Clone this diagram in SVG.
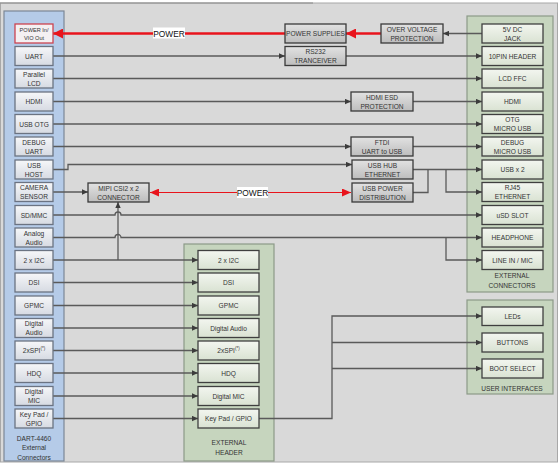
<svg xmlns="http://www.w3.org/2000/svg" width="558" height="463" viewBox="0 0 558 463">
<defs>
<linearGradient id="gL" x1="0" y1="0" x2="0" y2="1"><stop offset="0" stop-color="#f6f7f9"/><stop offset="1" stop-color="#d6dae2"/></linearGradient>
<linearGradient id="gM" x1="0" y1="0" x2="0" y2="1"><stop offset="0" stop-color="#e2e2e2"/><stop offset="1" stop-color="#bdbdbd"/></linearGradient>
<linearGradient id="gR" x1="0" y1="0" x2="0" y2="1"><stop offset="0" stop-color="#f3f6f0"/><stop offset="1" stop-color="#d9e2d2"/></linearGradient>
<marker id="a" markerUnits="userSpaceOnUse" markerWidth="7" markerHeight="6" refX="6" refY="3" orient="auto"><path d="M0,0.3 L6,3 L0,5.7 z" fill="#3c3c3c"/></marker>
<marker id="r" markerUnits="userSpaceOnUse" markerWidth="11" markerHeight="10" refX="10" refY="5" orient="auto"><path d="M0,0 L10,5 L0,10 z" fill="#e8141c"/></marker>
<marker id="rs" markerUnits="userSpaceOnUse" markerWidth="10" markerHeight="8" refX="9" refY="4" orient="auto-start-reverse"><path d="M0,0 L9,4 L0,8 z" fill="#e8141c"/></marker>
<style>
text{font-family:"Liberation Sans",Arial,sans-serif;font-size:6.6px;fill:#333;text-anchor:middle;dominant-baseline:central}
.bl{fill:url(#gL);stroke:#6b7382;stroke-width:1.3}
.bm{fill:url(#gM);stroke:#3a3a3a;stroke-width:1.3}
.br{fill:url(#gR);stroke:#3f3f3f;stroke-width:1.3}
.pg{fill:#c6d5be;stroke:#8c9a88;stroke-width:1.2}
.pb{fill:#b5cbe8;stroke:#7c8796;stroke-width:1.2}
.c{fill:none;stroke:#5a5a5a;stroke-width:1.3}
.ca{fill:none;stroke:#5a5a5a;stroke-width:1.3;marker-end:url(#a)}
.lbl{font-size:8.4px;fill:#111}
</style>
</defs>
<rect x="0" y="0" width="558" height="463" fill="#ffffff"/>
<rect x="0.5" y="3" width="557" height="459" fill="#d9d9d9" stroke="#a8a8a8" stroke-width="1"/>
<line x1="0" y1="3" x2="313" y2="3" stroke="#8a8a8a" stroke-width="1.2"/>

<!-- panels -->
<g id="dart-panel"><rect class="pb" x="4" y="11" width="60" height="450"/>
<text x="34" y="438">DART-4460</text><text x="34" y="447.5">External</text><text x="34" y="457">Connectors</text></g>
<g id="external-header"><rect class="pg" x="184" y="244" width="90" height="217"/>
<text x="229" y="442">EXTERNAL</text><text x="229" y="452">HEADER</text></g>
<g id="external-connectors"><rect class="pg" x="467" y="16" width="86" height="276"/>
<text x="512" y="275">EXTERNAL</text><text x="512" y="285">CONNECTORS</text></g>
<g id="user-interfaces"><rect class="pg" x="467" y="300" width="86" height="94"/>
<text x="512" y="388">USER INTERFACES</text></g>

<!-- connectors -->
<g id="connectors">
<line x1="285" y1="33.5" x2="53" y2="33.5" stroke="#e8141c" stroke-width="2.4" marker-end="url(#r)"/>
<line x1="381" y1="33.5" x2="346" y2="33.5" stroke="#e8141c" stroke-width="2.4" marker-end="url(#r)"/>
<line x1="482" y1="33.5" x2="443" y2="33.5" class="ca"/>
<line x1="53" y1="56" x2="285" y2="56" class="ca"/>
<line x1="346" y1="56" x2="482" y2="56" class="ca"/>
<line x1="53" y1="78.5" x2="482" y2="78.5" class="ca"/>
<line x1="53" y1="101.5" x2="351" y2="101.5" class="ca"/>
<line x1="413" y1="101.5" x2="482" y2="101.5" class="ca"/>
<line x1="53" y1="124" x2="482" y2="124" class="ca"/>
<line x1="53" y1="146.5" x2="351" y2="146.5" class="ca"/>
<line x1="413" y1="146.5" x2="482" y2="146.5" class="ca"/>
<path d="M53,169.5 H68 V164.5 H352" class="ca"/>
<line x1="413" y1="169.5" x2="482" y2="169.5" class="ca"/>
<path d="M428,169.5 V192.5 H413" class="c"/>
<path d="M446,169.5 V192 H482" class="ca"/>
<line x1="53" y1="192" x2="88" y2="192" class="ca"/>
<line x1="150" y1="192.5" x2="351" y2="192.5" stroke="#e8141c" stroke-width="1" marker-start="url(#rs)" marker-end="url(#rs)"/>
<path d="M53,215 H115 a3,3 0 0 1 6,0 H482" class="ca"/>
<path d="M53,237.5 H115 a3,3 0 0 1 6,0 H482" class="ca"/>
<path d="M446,237.5 V260 H482" class="ca"/>
<line x1="53" y1="260" x2="198" y2="260" class="ca"/>
<line x1="118" y1="260" x2="118" y2="202" class="ca"/>
<line x1="53" y1="282.5" x2="198" y2="282.5" class="ca"/>
<line x1="53" y1="305.5" x2="198" y2="305.5" class="ca"/>
<line x1="53" y1="328" x2="198" y2="328" class="ca"/>
<line x1="53" y1="350.5" x2="198" y2="350.5" class="ca"/>
<line x1="53" y1="373" x2="198" y2="373" class="ca"/>
<line x1="53" y1="396" x2="198" y2="396" class="ca"/>
<line x1="53" y1="418.5" x2="198" y2="418.5" class="ca"/>
<path d="M259,418.5 H332 V316 H482" class="ca"/>
<line x1="332" y1="342.5" x2="482" y2="342.5" class="ca"/>
<line x1="332" y1="368.5" x2="482" y2="368.5" class="ca"/>
<g id="power-label-top"><rect x="153" y="27.5" width="32" height="11" fill="#ffffff"/><text class="lbl" x="169" y="33.5">POWER</text></g>
<g id="power-label-mid"><rect x="237" y="187" width="31" height="11" fill="#ffffff"/><text class="lbl" x="252.5" y="192.5">POWER</text></g>
</g>

<!-- left boxes -->
<g id="power-in"><rect x="15" y="24" width="38" height="19" fill="#f4f0f2" stroke="#cc4450" stroke-width="1.3"/><text x="34" y="29.5" style="font-size:5.6px">POWER In/</text><text x="34" y="37.5" style="font-size:5.6px">VIO Out</text></g>
<g id="uart"><rect class="bl" x="15" y="46.5" width="38" height="19"/><text x="34" y="56">UART</text></g>
<g id="parallel-lcd"><rect class="bl" x="15" y="69" width="38" height="19"/><text x="34" y="74">Parallel</text><text x="34" y="83">LCD</text></g>
<g id="hdmi-l"><rect class="bl" x="15" y="92" width="38" height="19"/><text x="34" y="101.5">HDMI</text></g>
<g id="usb-otg"><rect class="bl" x="15" y="114.5" width="38" height="19"/><text x="34" y="124">USB OTG</text></g>
<g id="debug-uart"><rect class="bl" x="15" y="137" width="38" height="19"/><text x="34" y="142">DEBUG</text><text x="34" y="151">UART</text></g>
<g id="usb-host"><rect class="bl" x="15" y="160" width="38" height="19"/><text x="34" y="165">USB</text><text x="34" y="174">HOST</text></g>
<g id="camera-sensor"><rect class="bl" x="15" y="182.5" width="38" height="19"/><text x="34" y="187.5">CAMERA</text><text x="34" y="196.5">SENSOR</text></g>
<g id="sd-mmc"><rect class="bl" x="15" y="205.5" width="38" height="19"/><text x="34" y="215">SD/MMC</text></g>
<g id="analog-audio"><rect class="bl" x="15" y="228" width="38" height="19"/><text x="34" y="233">Analog</text><text x="34" y="242">Audio</text></g>
<g id="i2c-l"><rect class="bl" x="15" y="250.5" width="38" height="19"/><text x="34" y="260">2 x I2C</text></g>
<g id="dsi-l"><rect class="bl" x="15" y="273" width="38" height="19"/><text x="34" y="282.5">DSI</text></g>
<g id="gpmc-l"><rect class="bl" x="15" y="296" width="38" height="19"/><text x="34" y="305.5">GPMC</text></g>
<g id="digital-audio-l"><rect class="bl" x="15" y="318.5" width="38" height="19"/><text x="34" y="323.5">Digital</text><text x="34" y="332.5">Audio</text></g>
<g id="spi-l"><rect class="bl" x="15" y="341" width="38" height="19"/><text x="34" y="350.5">2xSPI<tspan dy="-2.5" style="font-size:4.5px">(*)</tspan></text></g>
<g id="hdq-l"><rect class="bl" x="15" y="363.5" width="38" height="19"/><text x="34" y="373">HDQ</text></g>
<g id="digital-mic-l"><rect class="bl" x="15" y="386.5" width="38" height="19"/><text x="34" y="391.5">Digital</text><text x="34" y="400.5">MIC</text></g>
<g id="keypad-l"><rect class="bl" x="15" y="409" width="38" height="19"/><text x="34" y="414">Key Pad /</text><text x="34" y="423">GPIO</text></g>

<!-- middle boxes -->
<g id="power-supplies"><rect class="bm" x="285" y="24" width="61" height="19"/><text x="315.5" y="33.5">POWER SUPPLIES</text></g>
<g id="over-voltage"><rect class="bm" x="381" y="24" width="62" height="19"/><text x="412" y="29.5">OVER VOLTAGE</text><text x="412" y="38">PROTECTION</text></g>
<g id="rs232"><rect class="bm" x="285" y="46.5" width="61" height="19"/><text x="315.5" y="51.5">RS232</text><text x="315.5" y="60.5">TRANCEIVER</text></g>
<g id="hdmi-esd"><rect class="bm" x="351" y="92" width="62" height="19"/><text x="382" y="97">HDMI ESD</text><text x="382" y="106">PROTECTION</text></g>
<g id="ftdi"><rect class="bm" x="351" y="137" width="62" height="19"/><text x="382" y="142">FTDI</text><text x="382" y="151">UART to USB</text></g>
<g id="usb-hub"><rect class="bm" x="352" y="160" width="61" height="19"/><text x="382.5" y="165">USB HUB</text><text x="382.5" y="174">ETHERNET</text></g>
<g id="usb-power"><rect class="bm" x="352" y="183" width="61" height="19"/><text x="382.5" y="188">USB POWER</text><text x="382.5" y="197">DISTRIBUTION</text></g>
<g id="mipi"><rect class="bm" x="88" y="183" width="61" height="19"/><text x="118.5" y="188">MIPI CSI2 x 2</text><text x="118.5" y="197">CONNECTOR</text></g>

<!-- right boxes -->
<g id="dc-jack"><rect class="br" x="482" y="24" width="61" height="19"/><text x="512.5" y="29">5V DC</text><text x="512.5" y="38">JACK</text></g>
<g id="pin-header"><rect class="br" x="482" y="46.5" width="61" height="19"/><text x="512.5" y="56">10PIN HEADER</text></g>
<g id="lcd-ffc"><rect class="br" x="482" y="69" width="61" height="19"/><text x="512.5" y="78.5">LCD FFC</text></g>
<g id="hdmi-r"><rect class="br" x="482" y="92" width="61" height="19"/><text x="512.5" y="101.5">HDMI</text></g>
<g id="otg-usb"><rect class="br" x="482" y="114.5" width="61" height="19"/><text x="512.5" y="119.5">OTG</text><text x="512.5" y="128.5">MICRO USB</text></g>
<g id="debug-usb"><rect class="br" x="482" y="137" width="61" height="19"/><text x="512.5" y="142">DEBUG</text><text x="512.5" y="151">MICRO USB</text></g>
<g id="usb-x2"><rect class="br" x="482" y="160" width="61" height="19"/><text x="512.5" y="169.5">USB x 2</text></g>
<g id="rj45"><rect class="br" x="482" y="182.5" width="61" height="19"/><text x="512.5" y="187.5">RJ45</text><text x="512.5" y="196.5">ETHERNET</text></g>
<g id="usd-slot"><rect class="br" x="482" y="205.5" width="61" height="19"/><text x="512.5" y="215">uSD SLOT</text></g>
<g id="headphone"><rect class="br" x="482" y="228" width="61" height="19"/><text x="512.5" y="237.5">HEADPHONE</text></g>
<g id="line-in"><rect class="br" x="482" y="250.5" width="61" height="19"/><text x="512.5" y="260">LINE IN / MIC</text></g>

<!-- header boxes -->
<g id="i2c-h"><rect class="br" x="198" y="250.5" width="61" height="19"/><text x="228.5" y="260">2 x I2C</text></g>
<g id="dsi-h"><rect class="br" x="198" y="273" width="61" height="19"/><text x="228.5" y="282.5">DSI</text></g>
<g id="gpmc-h"><rect class="br" x="198" y="296" width="61" height="19"/><text x="228.5" y="305.5">GPMC</text></g>
<g id="digital-audio-h"><rect class="br" x="198" y="318.5" width="61" height="19"/><text x="228.5" y="328">Digital Audio</text></g>
<g id="spi-h"><rect class="br" x="198" y="341" width="61" height="19"/><text x="228.5" y="350.5">2xSPI<tspan dy="-2.5" style="font-size:4.5px">(*)</tspan></text></g>
<g id="hdq-h"><rect class="br" x="198" y="363.5" width="61" height="19"/><text x="228.5" y="373">HDQ</text></g>
<g id="digital-mic-h"><rect class="br" x="198" y="386.5" width="61" height="19"/><text x="228.5" y="396">Digital MIC</text></g>
<g id="keypad-h"><rect class="br" x="198" y="409" width="61" height="19"/><text x="228.5" y="418.5">Key Pad / GPIO</text></g>

<!-- user interface boxes -->
<g id="leds"><rect class="br" x="482" y="307" width="61" height="18.5"/><text x="512.5" y="316">LEDs</text></g>
<g id="buttons"><rect class="br" x="482" y="333" width="61" height="19"/><text x="512.5" y="342.5">BUTTONS</text></g>
<g id="boot-select"><rect class="br" x="482" y="359" width="61" height="19"/><text x="512.5" y="368.5">BOOT SELECT</text></g>
</svg>
